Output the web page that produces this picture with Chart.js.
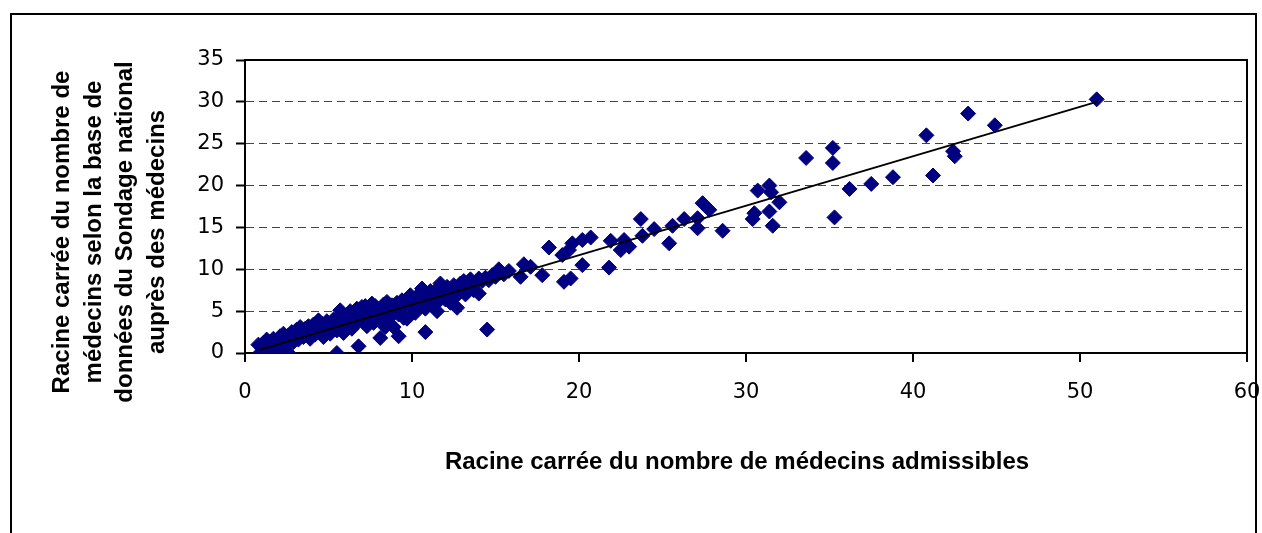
<!DOCTYPE html>
<html>
<head>
<meta charset="utf-8">
<script src="https://cdn.jsdelivr.net/npm/chart.js@4/dist/chart.umd.min.js"></script>
<style>
  body { margin: 0; background: #fff; }
  #wrap { width: 1262px; height: 533px; }
</style>
</head>
<body>
<div id="wrap"><canvas id="chart" width="1262" height="533"></canvas></div>
<script>
// sqrt of eligible physicians (x) vs sqrt of physicians in the survey database (y)
const admissibles = [
  0.8, 0.9, 1.0, 1.1, 1.2, 1.3, 1.4, 1.5, 1.5, 1.6, 1.7, 1.8, 1.9, 2.0, 2.1, 2.2, 2.3, 2.4, 2.5, 2.6,
  2.6, 2.7, 2.8, 2.9, 3.0, 3.1, 3.2, 3.3, 3.4, 3.5, 3.6, 3.7, 3.8, 3.9, 4.0, 4.1, 4.2, 4.3, 4.4, 4.5,
  4.6, 4.7, 4.8, 4.9, 5.0, 5.1, 5.2, 5.3, 5.4, 5.5, 5.5, 5.6, 5.7, 5.8, 5.9, 6.0, 6.1, 6.2, 6.3, 6.4,
  6.5, 6.6, 6.7, 6.8, 6.9, 7.0, 7.0, 7.1, 7.2, 7.3, 7.4, 7.5, 7.6, 7.7, 7.8, 7.9, 8.0, 8.1, 8.2, 8.3,
  8.4, 8.4, 8.5, 8.6, 8.7, 8.8, 8.9, 9.0, 9.1, 9.2, 9.2, 9.3, 9.4, 9.5, 9.6, 9.7, 9.8, 9.9, 10.0, 10.1,
  10.2, 10.3, 10.4, 10.5, 10.6, 10.7, 10.8, 10.8, 10.9, 11.0, 11.1, 11.2, 11.3, 11.4, 11.5, 11.6, 11.7, 11.8, 11.9, 12.0,
  12.1, 12.2, 12.3, 12.4, 12.5, 12.6, 12.7, 12.8, 12.9, 13.0, 13.1, 13.2, 13.4, 13.5, 13.7, 13.8, 14.0, 14.0, 14.2, 14.4,
  14.5, 14.6, 14.8, 15.0, 15.2, 15.3, 15.5, 15.8, 16.5, 16.7, 17.1, 17.8, 18.2, 19.0, 19.1, 19.4, 19.5, 19.6, 20.2, 20.2,
  20.7, 21.8, 21.9, 22.5, 22.7, 23.0, 23.7, 23.8, 24.5, 25.4, 25.6, 26.3, 27.1, 27.1, 27.4, 27.8, 28.6, 30.4, 30.5, 30.7,
  31.4, 31.5, 31.4, 31.6, 32.0, 33.6, 35.2, 35.2, 35.3, 36.2, 37.5, 38.8, 40.8, 41.2, 42.4, 42.5, 43.3, 44.9, 51.0,
  6.3, 6.7, 7.2, 7.6
];
const sondage = [
  1.0, 0.0, 0.6, 1.2, 0.3, 1.6, 0.9, 0.0, 1.3, 0.5, 1.7, 1.0, 0.0, 1.4, 2.0, 0.7, 2.3, 1.5, 1.1, 0.0,
  2.1, 1.8, 2.5, 1.3, 2.0, 2.8, 1.6, 3.1, 2.3, 1.9, 2.9, 2.5, 3.2, 1.7, 2.7, 3.4, 2.2, 3.0, 3.9, 2.6,
  3.5, 1.9, 3.2, 3.8, 2.9, 2.3, 3.6, 4.0, 3.1, 0.0, 2.7, 4.3, 5.1, 3.5, 2.4, 4.0, 3.3, 4.6, 3.8, 2.9,
  4.9, 4.2, 3.6, 0.8, 5.2, 5.5, 4.5, 3.9, 4.8, 3.2, 5.3, 4.2, 5.0, 3.6, 5.6, 4.6, 5.2, 1.8, 4.0, 5.8,
  3.1, 4.9, 6.1, 5.4, 4.3, 5.7, 3.1, 5.0, 6.0, 2.0, 4.6, 5.5, 6.3, 4.2, 5.8, 4.1, 6.5, 6.9, 5.4, 6.2,
  4.8, 6.7, 5.9, 7.2, 7.7, 6.4, 2.5, 5.3, 6.9, 6.0, 7.4, 6.6, 7.1, 5.8, 5.0, 7.8, 8.3, 6.8, 7.3, 6.4,
  7.9, 7.0, 6.0, 7.6, 8.1, 6.7, 5.4, 7.3, 8.3, 7.8, 8.6, 7.0, 8.0, 8.8, 7.5, 8.4, 7.1, 8.9, 8.6, 9.0,
  2.8, 8.7, 9.3, 9.1, 10.0, 9.6, 9.4, 9.8, 9.1, 10.6, 10.3, 9.3, 12.6, 11.7, 8.5, 12.3, 8.9, 13.1, 13.5, 10.5,
  13.8, 10.2, 13.4, 12.3, 13.5, 12.7, 16.0, 14.0, 14.8, 13.1, 15.2, 16.0, 14.9, 16.1, 17.9, 17.1, 14.6, 16.0, 16.7, 19.4,
  20.0, 19.2, 16.9, 15.2, 18.0, 23.3, 24.5, 22.7, 16.2, 19.6, 20.2, 21.0, 26.0, 21.2, 24.1, 23.5, 28.6, 27.2, 30.3,
  5.0, 5.3, 5.6, 5.9
];
// fitted line, end points
const trendX = [0.9, 51.0];
const trendY = [0.4, 30.0];

const xTicks = [0, 10, 20, 30, 40, 50, 60];
const yTicks = [0, 5, 10, 15, 20, 25, 30, 35];

const xTitle = 'Racine carrée du nombre de médecins admissibles';
const yTitle = [
  'Racine carrée du nombre de',
  'médecins selon la base de',
  'données du Sondage national',
  'auprès des médecins'
];

const points = admissibles.map((x, i) => ({ x, y: sondage[i] }));
const trend = trendX.map((x, i) => ({ x, y: trendY[i] }));

const tickFont = { family: '"DejaVu Sans", sans-serif', size: 21 };

// frame, plot border and the two axis titles
const decor = {
  id: 'decor',
  afterDraw(chart) {
    const ctx = chart.ctx;
    const a = chart.chartArea;
    ctx.save();
    ctx.strokeStyle = '#000';
    ctx.lineWidth = 2;
    ctx.strokeRect(11, 14, 1245, 540);
    ctx.beginPath();
    ctx.moveTo(a.left, a.top);
    ctx.lineTo(a.right, a.top);
    ctx.lineTo(a.right, a.bottom);
    ctx.stroke();

    ctx.fillStyle = '#000';
    ctx.font = 'bold 24px "Liberation Sans", Arial, sans-serif';
    ctx.textAlign = 'center';
    ctx.textBaseline = 'middle';
    ctx.fillText(xTitle, 737, 462);

    ctx.translate(110, 232);
    ctx.rotate(-Math.PI / 2);
    yTitle.forEach((line, i) => {
      ctx.fillText(line, 0, (i - 1.5) * 31.5);
    });
    ctx.restore();
  }
};

new Chart(document.getElementById('chart'), {
  type: 'scatter',
  data: {
    datasets: [
      {
        type: 'line',
        data: trend,
        borderColor: '#000',
        borderWidth: 2,
        pointRadius: 0,
        fill: false,
        order: 0
      },
      {
        data: points,
        pointStyle: 'rectRot',
        pointRadius: 7.5,
        backgroundColor: '#000080',
        borderColor: '#000080',
        borderWidth: 1,
        order: 1
      }
    ]
  },
  options: {
    responsive: false,
    animation: false,
    layout: { padding: { top: 60, right: 15, left: 0, bottom: 0 } },
    plugins: { legend: { display: false }, tooltip: { enabled: false } },
    scales: {
      x: {
        type: 'linear',
        min: 0,
        max: 60,
        afterFit: (s) => { s.height = 180; s.paddingLeft = 0; s.paddingRight = 0; },
        afterBuildTicks: (s) => { s.ticks = xTicks.map(v => ({ value: v })); },
        ticks: { color: '#000', font: tickFont, padding: 18, maxRotation: 0 },
        grid: { drawOnChartArea: false, color: '#000', lineWidth: 2, tickLength: 9 },
        border: { color: '#000', width: 2 }
      },
      y: {
        type: 'linear',
        min: 0,
        max: 35,
        afterFit: (s) => { s.width = 245; s.paddingTop = 0; s.paddingBottom = 0; },
        afterBuildTicks: (s) => { s.ticks = yTicks.map(v => ({ value: v })); },
        ticks: { color: '#000', font: tickFont, padding: 12 },
        grid: { color: '#444', lineWidth: 1, tickLength: 9, tickColor: '#000', tickWidth: 2, tickBorderDash: [] },
        border: { color: '#000', width: 2, dash: [8, 5] }
      }
    }
  },
  plugins: [decor]
});
</script>
</body>
</html>
